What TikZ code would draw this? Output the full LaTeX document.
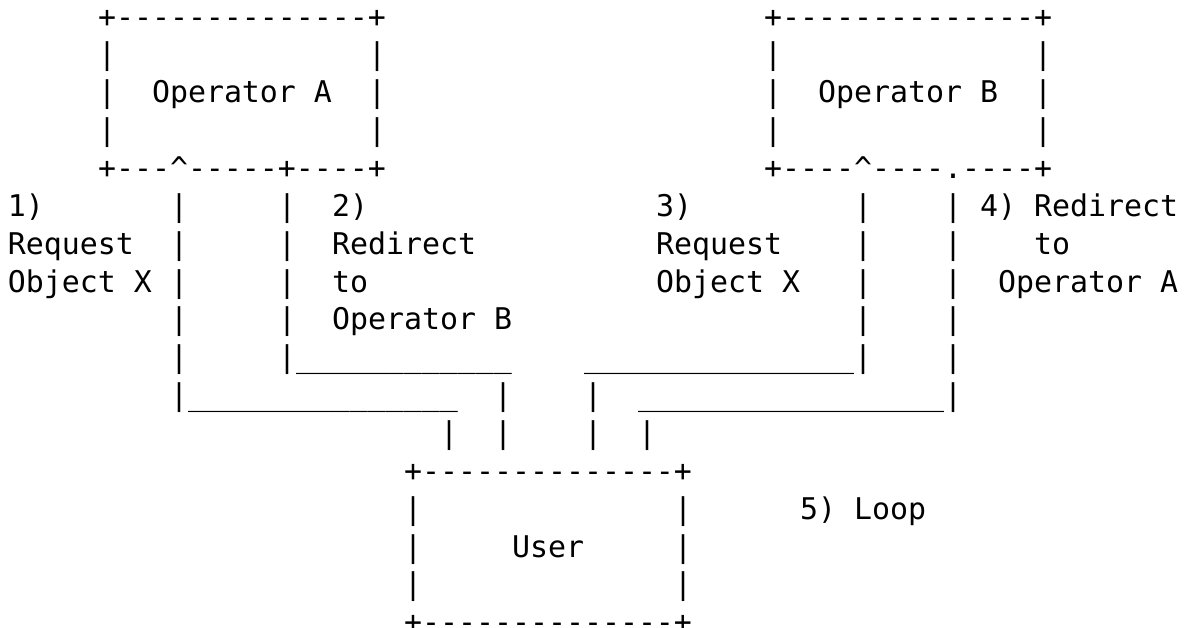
\documentclass[tikz,border=0pt]{standalone}
\usepackage{fontspec}
\setmonofont{DejaVu Sans Mono}

% one run of monospaced characters, placed on the character grid (column, row)
\newcommand\asc[4]{\node[ascii] (#1) at ({8+18*(#2)},{27+37.86*(#3)}) {#4};}

\begin{document}
\begin{tikzpicture}[x=0.5pt,y=-0.5pt,
  ascii/.style={font=\ttfamily\fontsize{14.95pt}{18pt}\selectfont,
                anchor=base west, inner sep=0pt, outer sep=0pt, text=black}]
\fill[white] (0,0) rectangle (1184,627);
\useasboundingbox (0,0) rectangle (1184,627);

% Operator A and Operator B boxes
\asc{a0}{5}{0}{+--------------+}
\asc{b0}{42}{0}{+--------------+}
\asc{a1l}{5}{1}{|}  \asc{a1r}{20}{1}{|}
\asc{b1l}{42}{1}{|} \asc{b1r}{57}{1}{|}
\asc{a2l}{5}{2}{|}  \asc{opA}{8}{2}{Operator A}  \asc{a2r}{20}{2}{|}
\asc{b2l}{42}{2}{|} \asc{opB}{45}{2}{Operator B} \asc{b2r}{57}{2}{|}
\asc{a3l}{5}{3}{|}  \asc{a3r}{20}{3}{|}
\asc{b3l}{42}{3}{|} \asc{b3r}{57}{3}{|}
\asc{a4}{5}{4}{+---\textasciicircum-----+----+}
\asc{b4}{42}{4}{+----\textasciicircum----.----+}

% message lines and their labels
\asc{l5a}{0}{5}{1)}
\asc{v5a}{9}{5}{|} \asc{v5b}{15}{5}{|}
\asc{l5b}{18}{5}{2)}
\asc{l5c}{36}{5}{3)}
\asc{v5c}{47}{5}{|} \asc{v5d}{52}{5}{|}
\asc{l5d}{54}{5}{4) Redirect}

\asc{l6a}{0}{6}{Request}
\asc{v6a}{9}{6}{|} \asc{v6b}{15}{6}{|}
\asc{l6b}{18}{6}{Redirect}
\asc{l6c}{36}{6}{Request}
\asc{v6c}{47}{6}{|} \asc{v6d}{52}{6}{|}
\asc{l6d}{57}{6}{to}

\asc{l7a}{0}{7}{Object X}
\asc{v7a}{9}{7}{|} \asc{v7b}{15}{7}{|}
\asc{l7b}{18}{7}{to}
\asc{l7c}{36}{7}{Object X}
\asc{v7c}{47}{7}{|} \asc{v7d}{52}{7}{|}
\asc{l7d}{55}{7}{Operator A}

\asc{v8a}{9}{8}{|} \asc{v8b}{15}{8}{|}
\asc{l8b}{18}{8}{Operator B}
\asc{v8c}{47}{8}{|} \asc{v8d}{52}{8}{|}

\asc{v9a}{9}{9}{|}
\asc{h9b}{15}{9}{|\_\_\_\_\_\_\_\_\_\_\_\_}
\asc{h9c}{32}{9}{\_\_\_\_\_\_\_\_\_\_\_\_\_\_\_|}
\asc{v9d}{52}{9}{|}

\asc{h10a}{9}{10}{|\_\_\_\_\_\_\_\_\_\_\_\_\_\_\_}
\asc{v10b}{27}{10}{|}
\asc{v10c}{32}{10}{|}
\asc{h10d}{35}{10}{\_\_\_\_\_\_\_\_\_\_\_\_\_\_\_\_\_|}

\asc{v11a}{24}{11}{|} \asc{v11b}{27}{11}{|}
\asc{v11c}{32}{11}{|} \asc{v11d}{35}{11}{|}

% User box
\asc{u12}{22}{12}{+--------------+}
\asc{u13l}{22}{13}{|} \asc{u13r}{37}{13}{|}
\asc{loop}{44}{13}{5) Loop}
\asc{u14l}{22}{14}{|} \asc{user}{28}{14}{User} \asc{u14r}{37}{14}{|}
\asc{u15l}{22}{15}{|} \asc{u15r}{37}{15}{|}
\asc{u16}{22}{16}{+--------------+}
\end{tikzpicture}
\end{document}
